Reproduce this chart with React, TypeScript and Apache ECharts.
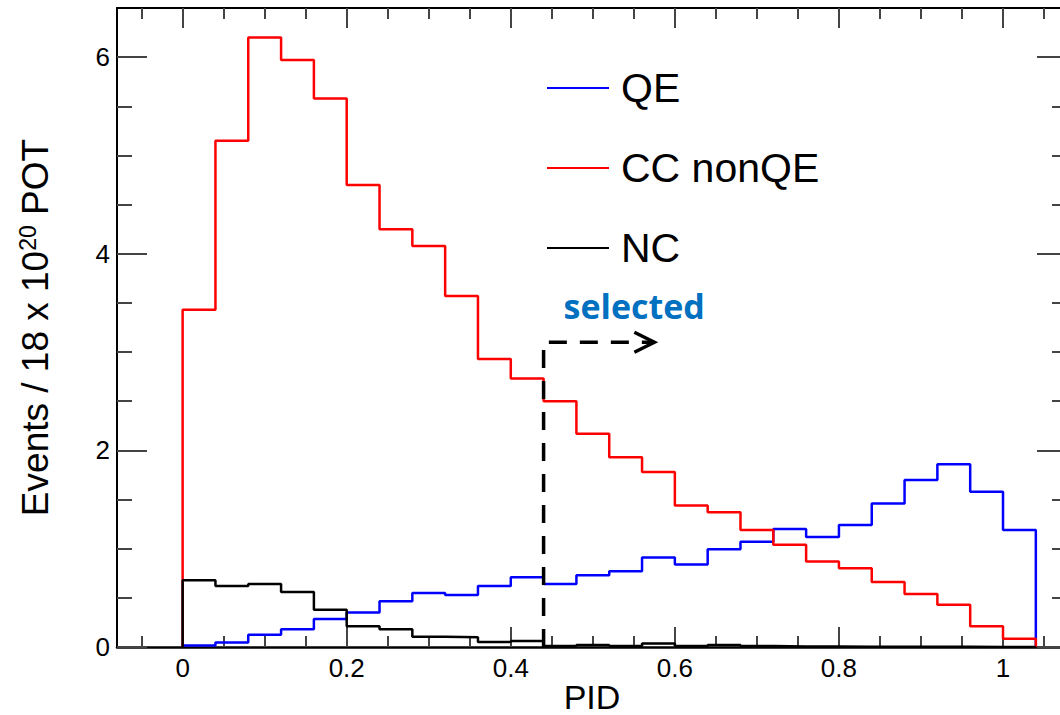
import React, { useEffect, useRef } from "react";
import * as echarts from "echarts";

// ---- data ----
const binEdges = [
  0, 0.04, 0.08, 0.12, 0.16, 0.2, 0.24, 0.28, 0.32, 0.36, 0.4, 0.44, 0.48,
  0.52, 0.56, 0.6, 0.64, 0.68, 0.72, 0.76, 0.8, 0.84, 0.88, 0.92, 0.96, 1.0,
  1.04,
];
const qeValues = [
  0.015, 0.045, 0.125, 0.18, 0.285, 0.35, 0.465, 0.55, 0.53, 0.62, 0.71, 0.64,
  0.73, 0.77, 0.91, 0.84, 0.995, 1.07, 1.2, 1.12, 1.24, 1.46, 1.7, 1.86, 1.58,
  1.19,
];
const ccNonQeValues = [
  3.43, 5.15, 6.2, 5.97, 5.58, 4.7, 4.25, 4.08, 3.57, 2.93, 2.73, 2.5, 2.17,
  1.93, 1.78, 1.44, 1.37, 1.19, 1.04, 0.87, 0.8, 0.66, 0.54, 0.43, 0.21, 0.085,
];
const ncValues = [
  0.68, 0.62, 0.64, 0.56, 0.38, 0.21, 0.18, 0.105, 0.1, 0.05, 0.06, 0.01, 0.02,
  0.01, 0.035, 0.01, 0.02, 0.01, 0.005, 0.005, 0.003, 0.003, 0.002, 0.002,
  0.001, 0.001,
];
const seriesNames = ["QE", "CC nonQE", "NC"];

const xMajorTicks = [0, 0.2, 0.4, 0.6, 0.8, 1];
const xMinorTicks = [
  -0.05, 0.05, 0.1, 0.15, 0.25, 0.3, 0.35, 0.45, 0.5, 0.55, 0.65, 0.7, 0.75,
  0.85, 0.9, 0.95, 1.05,
];
const yMajorTicks = [0, 2, 4, 6];
const yMinorTicks = [0.5, 1, 1.5, 2.5, 3, 3.5, 4.5, 5, 5.5];

// selection cut annotation: [cut value, arrow height, arrow tip]
const selectionCut = [0.44, 3.1, 0.575];
const selectionLabel = "selected";

const X_MIN = -0.08;
const X_MAX = 1.078;
const Y_MIN = 0;
const Y_MAX = 6.5;

const FONT = "'Liberation Sans', Arial, Helvetica, sans-serif";

function stepPoints(values: number[]): number[][] {
  const pts: number[][] = [[binEdges[0], 0]];
  for (let i = 0; i < values.length; i++) {
    pts.push([binEdges[i], values[i]]);
    pts.push([binEdges[i + 1], values[i]]);
  }
  pts.push([binEdges[values.length], 0]);
  return pts;
}

const tickStyle = { color: "#444", width: 2 };

function xAxisDef(position: string, ticks: number[], len: number, main: boolean, line: boolean) {
  return {
    type: "value",
    min: X_MIN,
    max: X_MAX,
    position,
    axisLine: { show: line, onZero: false, lineStyle: { color: "#000", width: position === "bottom" ? 2.5 : 2 } },
    axisTick: { show: true, inside: true, length: len, customValues: ticks, lineStyle: tickStyle },
    axisLabel: main
      ? {
          show: true,
          customValues: xMajorTicks,
          formatter: (v: number) => String(v),
          fontSize: 26,
          fontFamily: FONT,
          color: "#000",
          margin: 8,
        }
      : { show: false },
    splitLine: { show: false },
    ...(main
      ? {
          name: "PID",
          nameLocation: "middle",
          nameGap: 33,
          nameMoveOverlap: false,
          nameTextStyle: { fontSize: 34, fontFamily: FONT, color: "#000", lineHeight: 34 },
        }
      : {}),
  };
}

function yAxisDef(position: string, ticks: number[], len: number, main: boolean, line: boolean) {
  return {
    type: "value",
    min: Y_MIN,
    max: Y_MAX,
    position,
    axisLine: { show: line, onZero: false, lineStyle: { color: "#000", width: 2 } },
    axisTick: { show: true, inside: true, length: len, customValues: ticks, lineStyle: tickStyle },
    axisLabel: main
      ? {
          show: true,
          customValues: yMajorTicks,
          formatter: (v: number) => String(v),
          fontSize: 26,
          fontFamily: FONT,
          color: "#000",
          margin: 7,
        }
      : { show: false },
    splitLine: { show: false },
    ...(main
      ? {
          name: "Events / 18 x 10{sup|20} POT",
          nameLocation: "middle",
          nameGap: 63,
          nameTextStyle: {
            fontSize: 37,
            fontFamily: FONT,
            color: "#000",
            rich: {
              sup: { fontSize: 23, fontFamily: FONT, color: "#000", verticalAlign: "top", lineHeight: 38 },
            },
          },
        }
      : {}),
  };
}

export default function App() {
  const ref = useRef<HTMLDivElement>(null);

  useEffect(() => {
    if (!ref.current) return;
    const chart = echarts.init(ref.current, undefined, { renderer: "svg" });
    const colors = ["#0000FF", "#FF0000", "#000000"];
    const valueSets = [qeValues, ccNonQeValues, ncValues];

    const option: any = {
      animation: false,
      backgroundColor: "#fff",
      grid: { left: 117, top: 8, width: 950, height: 639, containLabel: false, outerBoundsMode: "none" },
      xAxis: [
        xAxisDef("bottom", xMajorTicks, 20, true, true),
        xAxisDef("bottom", xMinorTicks, 11, false, false),
        xAxisDef("top", xMajorTicks, 20, false, true),
        xAxisDef("top", xMinorTicks, 11, false, false),
      ],
      yAxis: [
        yAxisDef("left", yMajorTicks, 30, true, true),
        yAxisDef("left", yMinorTicks, 15, false, false),
        yAxisDef("right", yMajorTicks, 30, false, true),
        yAxisDef("right", yMinorTicks, 15, false, false),
      ],
      legend: {
        data: seriesNames,
        orient: "vertical",
        left: 542,
        top: 62,
        itemWidth: 62,
        itemHeight: 2,
        icon: "rect",
        itemGap: 38,
        selectedMode: false,
        textStyle: {
          fontSize: 41,
          fontFamily: FONT,
          color: "#000",
          lineHeight: 42,
          padding: [0, 0, 0, 7],
        },
      },
      series: [
        ...seriesNames.map((name, i) => ({
          name,
          type: "line",
          xAxisIndex: 0,
          yAxisIndex: 0,
          data: stepPoints(valueSets[i]),
          showSymbol: false,
          symbol: "none",
          color: colors[i],
          lineStyle: { color: colors[i], width: 2.5 },
          z: i === 2 ? 3 : 2,
        })),
        {
          type: "custom",
          xAxisIndex: 0,
          yAxisIndex: 0,
          data: [selectionCut],
          encode: { x: 0, y: 1 },
          z: 5,
          renderItem: (_params: any, api: any) => {
            const start = api.coord([api.value(0), 0]);
            const corner = api.coord([api.value(0), api.value(1)]);
            const end = api.coord([api.value(2), api.value(1)]);
            return {
              type: "group",
              children: [
                {
                  type: "polyline",
                  shape: { points: [start, corner, end] },
                  style: { stroke: "#000", lineWidth: 3.5, lineDash: [18, 13], fill: null },
                },
                {
                  type: "polyline",
                  shape: {
                    points: [
                      [end[0] - 20, end[1] - 10],
                      end,
                      [end[0] - 20, end[1] + 10],
                    ],
                  },
                  style: { stroke: "#000", lineWidth: 3.5, fill: null },
                },
                {
                  type: "text",
                  style: {
                    text: selectionLabel,
                    x: corner[0] + 20,
                    y: corner[1] - 36,
                    align: "left",
                    verticalAlign: "middle",
                    fontSize: 34,
                    fontWeight: "bold",
                    fontFamily: "'Open Sans', 'Noto Sans', sans-serif",
                    fill: "#0070C0",
                  },
                },
              ],
            };
          },
        },
      ],
    };
    chart.setOption(option);
    return () => chart.dispose();
  }, []);

  return (
    <div style={{ position: "absolute", left: 0, top: 0, width: 1060, height: 715, overflow: "hidden", background: "#fff" }}>
      <div ref={ref} style={{ width: 1068, height: 715 }} />
    </div>
  );
}
